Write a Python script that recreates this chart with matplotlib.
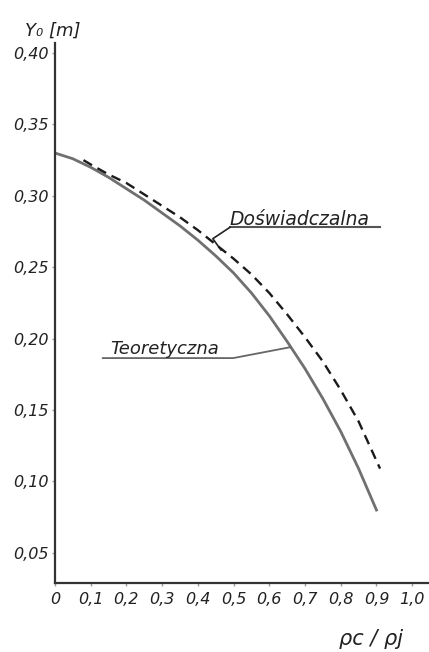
import matplotlib.pyplot as plt
from matplotlib.ticker import FixedLocator, FuncFormatter

plt.rcParams['font.family'] = ['DejaVu Sans']

# krzywa teoretyczna
x_teor = [0.0, 0.05, 0.1, 0.15, 0.2, 0.25, 0.3, 0.35, 0.4, 0.45,
          0.5, 0.55, 0.6, 0.65, 0.7, 0.75, 0.8, 0.85, 0.9]
y_teor = [0.330, 0.326, 0.320, 0.313, 0.305, 0.297, 0.288, 0.279, 0.269, 0.258,
          0.246, 0.232, 0.216, 0.198, 0.179, 0.158, 0.135, 0.109, 0.080]

# krzywa doswiadczalna
x_dosw = [0.08, 0.1, 0.15, 0.2, 0.25, 0.3, 0.35, 0.4, 0.45,
          0.5, 0.55, 0.6, 0.65, 0.7, 0.75, 0.8, 0.85, 0.91]
y_dosw = [0.325, 0.322, 0.315, 0.309, 0.301, 0.293, 0.285, 0.276, 0.266,
          0.256, 0.245, 0.232, 0.217, 0.201, 0.184, 0.164, 0.142, 0.109]

x_ticks = [0, 0.1, 0.2, 0.3, 0.4, 0.5, 0.6, 0.7, 0.8, 0.9, 1.0]
y_ticks = [0.05, 0.10, 0.15, 0.20, 0.25, 0.30, 0.35, 0.40]


def fmt_x(v, pos):
    if v == 0:
        return '0'
    return f'{v:.1f}'.replace('.', ',')


def fmt_y(v, pos):
    return f'{v:.2f}'.replace('.', ',')


fig = plt.figure(figsize=(4.29, 6.52), dpi=100)
ax = fig.add_axes([0.128, 0.106, 0.872, 0.828])

ax.plot(x_teor, y_teor, color='#707070', lw=2.0)
ax.plot(x_dosw, y_dosw, color='#1a1a1a', lw=1.7, dashes=(4.2, 2.6))

ax.set_xlim(0, 1.047)
ax.set_ylim(0.029, 0.407)
ax.xaxis.set_major_locator(FixedLocator(x_ticks))
ax.yaxis.set_major_locator(FixedLocator(y_ticks))
ax.xaxis.set_major_formatter(FuncFormatter(fmt_x))
ax.yaxis.set_major_formatter(FuncFormatter(fmt_y))

for s in ['top', 'right']:
    ax.spines[s].set_visible(False)
for s in ['left', 'bottom']:
    ax.spines[s].set_color('#333333')
    ax.spines[s].set_linewidth(1.6)

ax.tick_params(axis='both', length=2.5, width=1, color='#999999',
               labelsize=11.5, labelcolor='#222222', pad=4)
ax.tick_params(axis='y', pad=2)
for lab in ax.get_xticklabels() + ax.get_yticklabels():
    lab.set_fontstyle('italic')

# opisy krzywych
ax.text(0.49, 0.2795, 'Doświadczalna', fontsize=13.5, style='italic',
        color='#222222', va='baseline')
ax.plot([0.49, 0.91], [0.278, 0.278], color='#555555', lw=1.5)
ax.plot([0.49, 0.442, 0.465], [0.278, 0.270, 0.262], color='#222222', lw=1.2)

ax.text(0.155, 0.1895, 'Teoretyczna', fontsize=13, style='italic',
        color='#222222', va='baseline')
ax.plot([0.134, 0.499, 0.658], [0.1864, 0.1864, 0.194], color='#666666', lw=1.3)

fig.text(0.058, 0.945, 'Y₀ [m]', fontsize=13, style='italic', color='#222222')
fig.text(0.79, 0.01, 'ρc / ρj', fontsize=15, style='italic', color='#222222')

fig.savefig('out.png', dpi=100)
